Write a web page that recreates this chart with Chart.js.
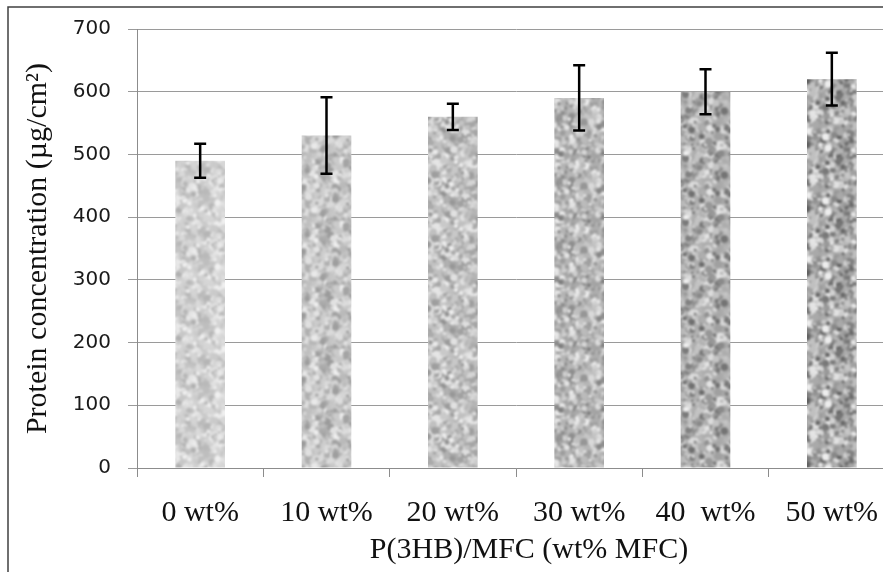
<!DOCTYPE html>
<html>
<head>
<meta charset="utf-8">
<title>Protein concentration</title>
<script src="https://cdn.jsdelivr.net/npm/chart.js@4/dist/chart.umd.min.js"></script>
<style>
    html, body { margin: 0; padding: 0; background: #fff; }
    #wrap { width: 883px; height: 572px; overflow: hidden; position: relative; }
    #chart { display: block; }
</style>
</head>
<body>
<div id="wrap">
    <canvas id="chart" width="900" height="572" style="width:900px;height:572px"></canvas>
</div>
<script>
// Protein concentration per film composition, mean and +/- deviation
const categories = ['0 wt%', '10 wt%', '20 wt%', '30 wt%', '40  wt%', '50 wt%'];
const protein = [490, 530, 560, 590, 600, 620];
const proteinError = [27, 61, 21, 52, 36, 42];
const yTicks = [0, 100, 200, 300, 400, 500, 600, 700];

const serif = '"Liberation Serif", "Times New Roman", serif';

// small seeded generator so the grain texture is the same on every load
function seeded(seed) {
    let s = seed;
    return () => {
        s = (s * 16807) % 2147483647;
        return s / 2147483647;
    };
}

// speckled grey fill for a bar; darker base + deeper spots for later bars
function makeTexture(seed, base, depth) {
    const size = 64;
    const src = document.createElement('canvas');
    src.width = src.height = size;
    const g = src.getContext('2d');
    const rnd = seeded(seed);
    g.fillStyle = `rgb(${base},${base},${base})`;
    g.fillRect(0, 0, size, size);
    for (let i = 0; i < 420; i++) {
        const v = Math.max(50, Math.min(240, Math.round(base + (rnd() - 0.5) * depth * 2)));
        const x = rnd() * size, y = rnd() * size, r = 1.2 + rnd() * 2.6;
        g.fillStyle = `rgb(${v},${v},${v})`;
        for (let dx = -1; dx <= 1; dx++) {
            for (let dy = -1; dy <= 1; dy++) {
                g.beginPath();
                g.arc(x + dx * size, y + dy * size, r, 0, Math.PI * 2);
                g.fill();
            }
        }
    }
    // tile 3x3 first, blur the whole sheet, keep the middle tile -> no seams
    const sheet = document.createElement('canvas');
    sheet.width = sheet.height = size * 3;
    const sg = sheet.getContext('2d');
    for (let dx = 0; dx < 3; dx++) {
        for (let dy = 0; dy < 3; dy++) {
            sg.drawImage(src, dx * size, dy * size);
        }
    }
    const out = document.createElement('canvas');
    out.width = out.height = size;
    const o = out.getContext('2d');
    o.filter = 'blur(1.1px)';
    o.drawImage(sheet, -size, -size);
    return o.createPattern(out, 'repeat');
}

const barFills = [
    makeTexture(11, 210, 34),
    makeTexture(23, 198, 44),
    makeTexture(37, 192, 50),
    makeTexture(41, 182, 58),
    makeTexture(53, 174, 66),
    makeTexture(67, 168, 74)
];

// outer figure frame (top and left edge)
const framePlugin = {
    id: 'frame',
    beforeDraw(chart) {
        const ctx = chart.ctx;
        ctx.save();
        ctx.strokeStyle = '#404040';
        ctx.lineWidth = 1.5;
        ctx.beginPath();
        ctx.moveTo(8, chart.height);
        ctx.lineTo(8, 7);
        ctx.lineTo(chart.width, 7);
        ctx.stroke();
        ctx.restore();
    }
};

// black I-beam deviation bars on each column
const errorBarPlugin = {
    id: 'errorBars',
    afterDatasetsDraw(chart) {
        const ctx = chart.ctx;
        const y = chart.scales.y;
        const meta = chart.getDatasetMeta(0);
        ctx.save();
        ctx.strokeStyle = '#000';
        ctx.lineWidth = 2.5;
        meta.data.forEach((bar, i) => {
            const top = y.getPixelForValue(protein[i] + proteinError[i]);
            const bot = y.getPixelForValue(protein[i] - proteinError[i]);
            ctx.beginPath();
            ctx.moveTo(bar.x, top);
            ctx.lineTo(bar.x, bot);
            ctx.moveTo(bar.x - 6, top);
            ctx.lineTo(bar.x + 6, top);
            ctx.moveTo(bar.x - 6, bot);
            ctx.lineTo(bar.x + 6, bot);
            ctx.stroke();
        });
        ctx.restore();
    }
};

// x axis title sits a little right of the plot centre
const xTitlePlugin = {
    id: 'xTitle',
    afterDraw(chart) {
        const ctx = chart.ctx;
        ctx.save();
        ctx.font = '30px ' + serif;
        ctx.fillStyle = '#111';
        ctx.textAlign = 'center';
        ctx.textBaseline = 'middle';
        ctx.fillText('P(3HB)/MFC (wt% MFC)', 529, 550);
        ctx.restore();
    }
};

const ctx = document.getElementById('chart').getContext('2d');
new Chart(ctx, {
    type: 'bar',
    data: {
        labels: categories,
        datasets: [{
            label: 'Protein concentration',
            data: protein,
            backgroundColor: barFills,
            borderWidth: 0,
            barPercentage: 0.393,
            categoryPercentage: 1
        }]
    },
    options: {
        responsive: false,
        animation: false,
        devicePixelRatio: 1,
        layout: {
            padding: { top: 27, right: 5, bottom: 0, left: 0 }
        },
        plugins: {
            legend: { display: false },
            tooltip: { enabled: false }
        },
        scales: {
            x: {
                grid: {
                    display: true,
                    drawOnChartArea: false,
                    color: '#8c8c8c',
                    tickLength: 9,
                    offset: true
                },
                border: { color: '#8c8c8c', width: 1 },
                ticks: {
                    color: '#111',
                    padding: 18,
                    maxRotation: 0,
                    autoSkip: false,
                    font: { family: serif, size: 30 }
                },
                afterFit(scale) {
                    scale.height = 104;
                }
            },
            y: {
                min: 0,
                max: 700,
                afterBuildTicks(scale) {
                    scale.ticks = yTicks.map(v => ({ value: v }));
                },
                grid: {
                    color: '#9a9a9a',
                    tickLength: 9
                },
                border: { color: '#8c8c8c', width: 1 },
                ticks: {
                    color: '#1a1a1a',
                    padding: 17,
                    font: { family: '"DejaVu Sans", Verdana, sans-serif', size: 20 }
                },
                title: {
                    display: true,
                    text: 'Protein concentration (µg/cm²)',
                    color: '#111',
                    font: { family: serif, size: 30 },
                    padding: { top: 20, bottom: 0 }
                },
                afterFit(scale) {
                    scale.width = 137;
                }
            }
        }
    },
    plugins: [framePlugin, errorBarPlugin, xTitlePlugin]
});
</script>
</body>
</html>
